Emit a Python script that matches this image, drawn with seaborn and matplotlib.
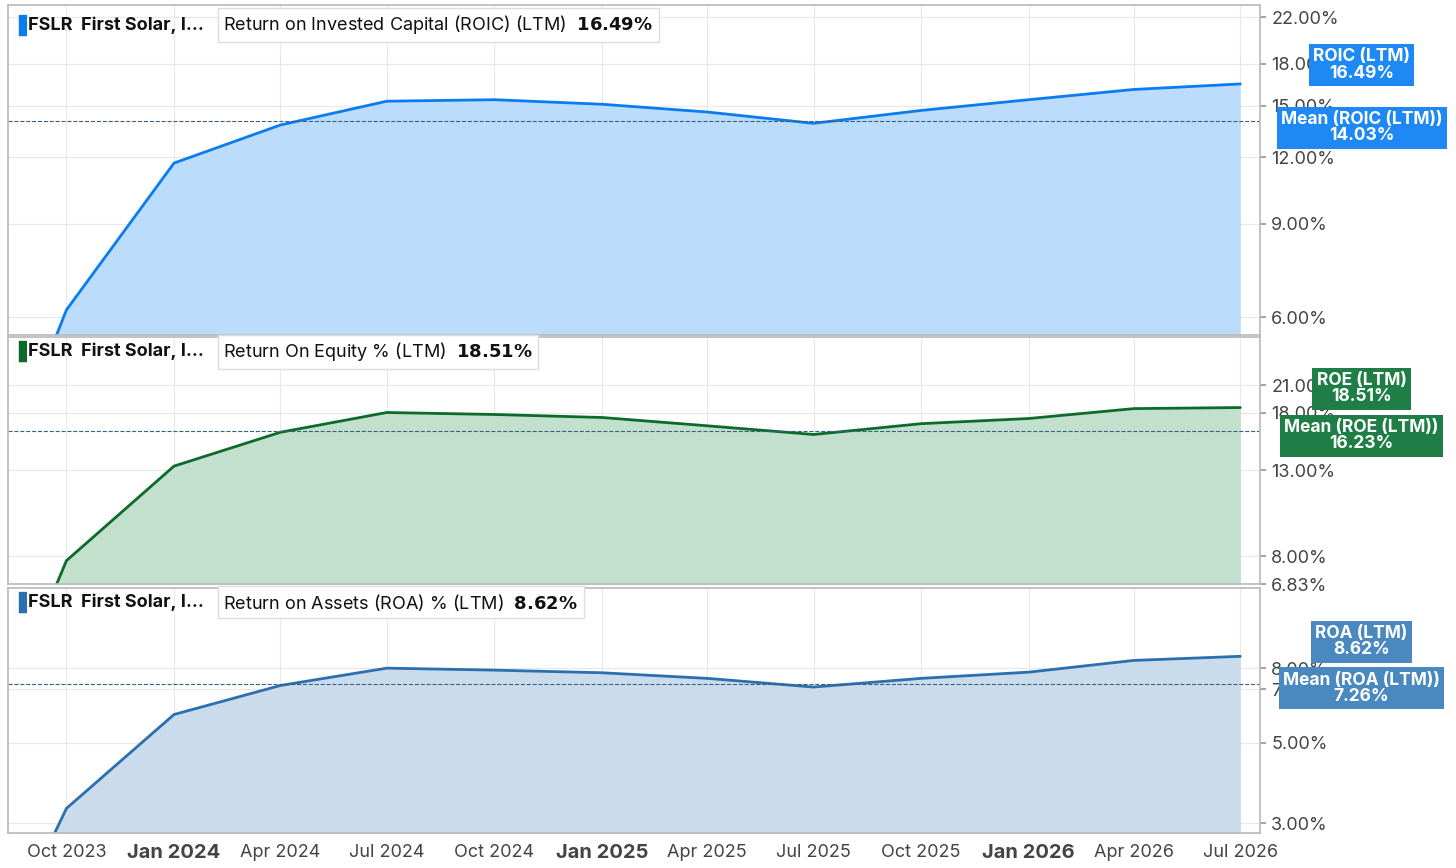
import numpy as np
import pandas as pd
import matplotlib.pyplot as plt
import seaborn as sns
from matplotlib.ticker import FixedLocator, NullLocator

sns.set_theme(style="white")
plt.rcParams['font.family'] = ['Inter', 'DejaVu Sans']

dates = pd.to_datetime(['2023-07-01', '2023-10-01', '2024-01-01', '2024-04-01', '2024-07-01',
                        '2024-10-01', '2025-01-01', '2025-04-01', '2025-07-01', '2025-10-01',
                        '2026-01-01', '2026-04-01', '2026-07-01'])
roic = [1.9, 6.19, 11.7, 13.8, 15.3, 15.4, 15.1, 14.6, 13.9, 14.7, 15.4, 16.1, 16.49]
roe = [1.83, 7.8, 13.3, 16.1, 18.0, 17.8, 17.5, 16.7, 15.9, 16.9, 17.4, 18.4, 18.51]
roa = [0.8, 3.3, 5.97, 7.17, 8.0, 7.9, 7.77, 7.5, 7.1, 7.5, 7.8, 8.4, 8.62]

panels = [
    dict(vals=roic, mean=14.03, title='Return on Invested Capital (ROIC) (LTM)', last='16.49%',
         lab='ROIC (LTM)', mlab='Mean (ROIC (LTM))', line='#0a7cf0', fill='#bbddfb', box='#1e88f5',
         ylim=(5.55, 23.2), ticks=[6, 9, 12, 15, 18, 22], rect=[0.0055, 0.614, 0.86, 0.380]),
    dict(vals=roe, mean=16.23, title='Return On Equity % (LTM)', last='18.51%',
         lab='ROE (LTM)', mlab='Mean (ROE (LTM))', line='#0b6b2a', fill='#c3dfce', box='#1e7e45',
         ylim=(6.83, 27.6), ticks=[6.83, 8, 13, 18, 21], rect=[0.0055, 0.327, 0.86, 0.285]),
    dict(vals=roa, mean=7.26, title='Return on Assets (ROA) % (LTM)', last='8.62%',
         lab='ROA (LTM)', mlab='Mean (ROA (LTM))', line='#2b6fb0', fill='#cadceb', box='#4a88c0',
         ylim=(2.82, 13.3), ticks=[3, 5, 7, 8], rect=[0.0055, 0.040, 0.86, 0.283]),
]

fig = plt.figure(figsize=(14.56, 8.68), dpi=100)
xmin, xmax = pd.Timestamp('2023-08-12'), pd.Timestamp('2026-07-18')
xt = pd.date_range('2023-10-01', '2026-07-01', freq='QS')

axes = []
for i, p in enumerate(panels):
    ax = fig.add_axes(p['rect'])
    axes.append(ax)
    df = pd.DataFrame({'date': dates, 'v': p['vals']})
    ax.fill_between(df['date'], p['ylim'][0] * 0.5, df['v'], color=p['fill'], lw=0)
    sns.lineplot(data=df, x='date', y='v', ax=ax, color=p['line'], lw=2)
    ax.set_yscale('log')
    ax.set_ylim(*p['ylim'])
    ax.set_xlim(xmin, xmax)
    ax.axhline(p['mean'], color='#3a5f7f', ls='--', lw=0.8)
    ax.yaxis.tick_right()
    ax.yaxis.set_major_locator(FixedLocator(p['ticks']))
    ax.yaxis.set_minor_locator(NullLocator())
    ax.set_yticklabels([f'{t:.2f}%' for t in p['ticks']], fontsize=13, color='#444444')
    ax.tick_params(axis='y', length=4, color='#999999', pad=4)
    ax.set_xticks(xt)
    ax.grid(True, color='#e8e8e8', lw=0.8)
    ax.set_xlabel('')
    ax.set_ylabel('')
    for s in ax.spines.values():
        s.set_color('#bbbbbb')
    ax.text(0.008, 0.94, '\u258c', transform=ax.transAxes, color=p['line'], fontsize=15, va='center')
    ax.text(0.016, 0.94, 'FSLR  First Solar, I...', transform=ax.transAxes, fontsize=13,
            fontweight='bold', va='center', color='#111111')
    ax.text(0.172, 0.94, f"{p['title']}  $\\bf{{{p['last'].replace('%', '\\%')}}}$", transform=ax.transAxes,
            fontsize=13, va='center', color='#111111',
            bbox=dict(facecolor='white', edgecolor='#dddddd', boxstyle='square,pad=0.3'))
    # right-side value labels
    ylo, yhi = np.log(p['ylim'])
    fr = lambda v: (np.log(v) - ylo) / (yhi - ylo)
    yl, ym = fr(p['vals'][-1]), fr(p['mean'])
    if yl - ym < 0.17:
        yl = ym + 0.17
    for yy, txt in [(yl, f"{p['lab']}\n{p['last']}"), (ym - 0.02, f"{p['mlab']}\n{p['mean']:.2f}%")]:
        ax.text(1.081, yy, txt, transform=ax.transAxes, ha='center', va='center', fontsize=12.5,
                fontweight='bold', color='white', linespacing=0.95, zorder=10, clip_on=False,
                bbox=dict(facecolor=p['box'], edgecolor='none', boxstyle='square,pad=0.25'))
    if i < 2:
        ax.tick_params(axis='x', labelbottom=False, length=0)

labs = [f'{d:%b %Y}' for d in xt]
axes[-1].set_xticklabels(labs, fontsize=13, color='#444444')
for t, d in zip(axes[-1].get_xticklabels(), xt):
    if d.month == 1:
        t.set_fontweight('bold')
        t.set_fontsize(14.5)
axes[-1].tick_params(axis='x', length=4, color='#999999')

fig.savefig('out.png', dpi=100)
